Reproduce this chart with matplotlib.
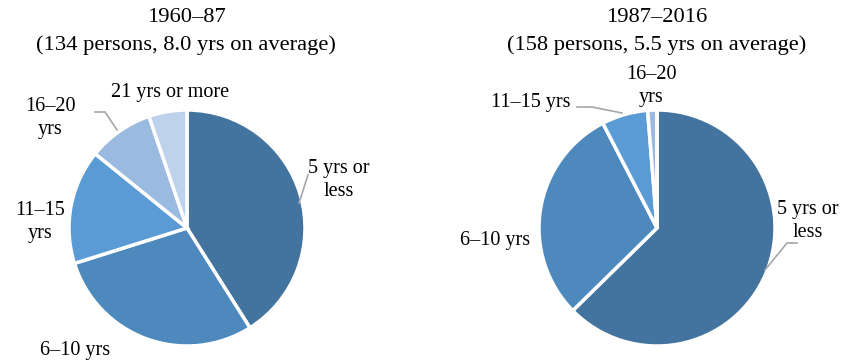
import matplotlib.pyplot as plt

plt.rcParams['font.family'] = ['Liberation Serif', 'DejaVu Serif']

categories = ['5 yrs or less', '6–10 yrs', '11–15 yrs', '16–20 yrs', '21 yrs or more']
persons_1960 = [55, 39, 21, 12, 7]
persons_1987 = [99, 47, 10, 2, 0]
colors = ['#43739f', '#4e89be', '#5b9bd5', '#9bbae0', '#bed2ec']

W, H = 851, 361
fig = plt.figure(figsize=(W / 100, H / 100), dpi=100)
ax = fig.add_axes([0, 0, 1, 1])
ax.set_xlim(0, W)
ax.set_ylim(0, H)
ax.set_aspect('equal')
ax.axis('off')

R = 118
for vals, cx in [(persons_1960, 187), (persons_1987, 657)]:
    ax.pie(vals, colors=colors, startangle=90, counterclock=False,
           center=(cx, H - 228), radius=R,
           wedgeprops=dict(edgecolor='white', linewidth=2.5))
ax.set_xlim(0, W)
ax.set_ylim(0, H)

fs = 14.5
def txt(x, y, s, size=fs):
    ax.text(x, H - y, s, fontsize=size, ha='center', va='center', linespacing=1.3)

def lead(pts):
    ax.plot([p[0] for p in pts], [H - p[1] for p in pts], color='#a6a6a6', lw=1.2)

# titles
txt(186, 18, '1960–87', 16.2)
txt(186, 45, '(134 persons, 8.0 yrs on average)', 16.2)
txt(657, 18, '1987–2016', 16.2)
txt(657, 45, '(158 persons, 5.5 yrs on average)', 16.2)

# left pie labels
txt(339, 180, '5 yrs or\nless')
lead([(299, 203), (308, 175)])
txt(75, 350, '6–10 yrs')
txt(40, 222, '11–15\nyrs')
txt(50, 118, '16–20\nyrs')
lead([(95, 112), (105, 112), (117, 130)])
txt(170, 92, '21 yrs or more')

# right pie labels
txt(808, 221, '5 yrs or\nless')
lead([(765, 270), (787, 243), (797, 243)])
txt(495, 240, '6–10 yrs')
txt(531, 102, '11–15 yrs')
lead([(577, 107), (592, 107), (622, 113)])
txt(651, 86, '16–20\nyrs')

fig.savefig('out.png', dpi=100)
